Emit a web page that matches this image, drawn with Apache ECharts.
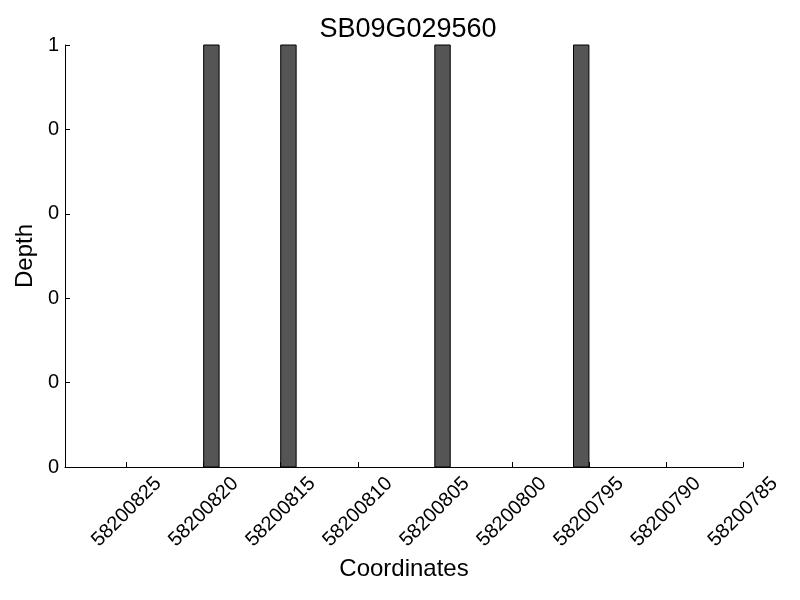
<!DOCTYPE html>
<html>
<head>
<meta charset="utf-8">
<script src="https://cdn.jsdelivr.net/npm/echarts@6/dist/echarts.min.js"></script>
<style>html,body{margin:0;padding:0;background:#fff;}#chart{width:800px;height:600px;}</style>
</head>
<body>
<div id="chart"></div>
<script>
var titleText = 'SB09G029560';
var xName = 'Coordinates';
var yName = 'Depth';
// bar start coordinates (each bar covers one base: [pos-1, pos])
var positions = [58200820, 58200815, 58200805, 58200796];
var depths = [1, 1, 1, 1];
var binSize = 1;
var xTickValues = [58200825, 58200820, 58200815, 58200810, 58200805, 58200800, 58200795, 58200790, 58200785];
var xMin = 58200785, xMax = 58200829;
var yMin = 0, yMax = 1, yStep = 0.2;

var data = positions.map(function (p, i) { return [p, depths[i]]; });
var font = 'Liberation Sans, Arial, Helvetica, sans-serif';
var chart = echarts.init(document.getElementById('chart'));
chart.setOption({
  animation: false,
  title: {
    text: titleText, left: 403, top: 11, textAlign: 'center',
    textStyle: { fontFamily: font, fontSize: 27, fontWeight: 'normal', color: '#000' }
  },
  grid: { left: 65, right: 57, top: 45, bottom: 133, containLabel: false },
  xAxis: {
    type: 'value', min: xMin, max: xMax, inverse: true,
    name: xName, nameLocation: 'middle', nameGap: 89,
    nameTextStyle: { fontFamily: font, fontSize: 24, color: '#000' },
    axisLine: { show: true, onZero: false, lineStyle: { color: '#000', width: 1 } },
    axisTick: { show: true, inside: true, length: 5, customValues: xTickValues, lineStyle: { color: '#000' } },
    axisLabel: {
      customValues: xTickValues, rotate: 45, align: 'center', verticalAlign: 'middle', margin: 45,
      fontFamily: font, fontSize: 20, color: '#000',
      formatter: function (v) { return String(Math.round(v)); }
    },
    splitLine: { show: false }
  },
  yAxis: {
    type: 'value', min: yMin, max: yMax, interval: yStep,
    name: yName, nameLocation: 'middle', nameGap: 27, nameRotate: 90,
    nameTextStyle: { fontFamily: font, fontSize: 24, color: '#000' },
    axisLine: { show: true, lineStyle: { color: '#000', width: 1 } },
    axisTick: { show: true, inside: true, length: 5, lineStyle: { color: '#000' } },
    axisLabel: {
      margin: 6, fontFamily: font, fontSize: 20, color: '#000',
      formatter: function (v) { return String(Math.floor(v + 1e-9)); }
    },
    splitLine: { show: false }
  },
  series: [{
    type: 'custom',
    data: data,
    encode: { x: 0, y: 1 },
    renderItem: function (params, api) {
      var x = api.value(0), y = api.value(1);
      var p1 = api.coord([x, y]);
      var p2 = api.coord([x - binSize, 0]);
      var x0 = Math.min(p1[0], p2[0]), w = Math.abs(p2[0] - p1[0]);
      var y0 = Math.min(p1[1], p2[1]), h = Math.abs(p2[1] - p1[1]);
      return {
        type: 'rect',
        shape: { x: x0, y: y0, width: w, height: h },
        style: { fill: '#555555', stroke: '#000', lineWidth: 1 }
      };
    }
  }]
});
</script>
</body>
</html>
